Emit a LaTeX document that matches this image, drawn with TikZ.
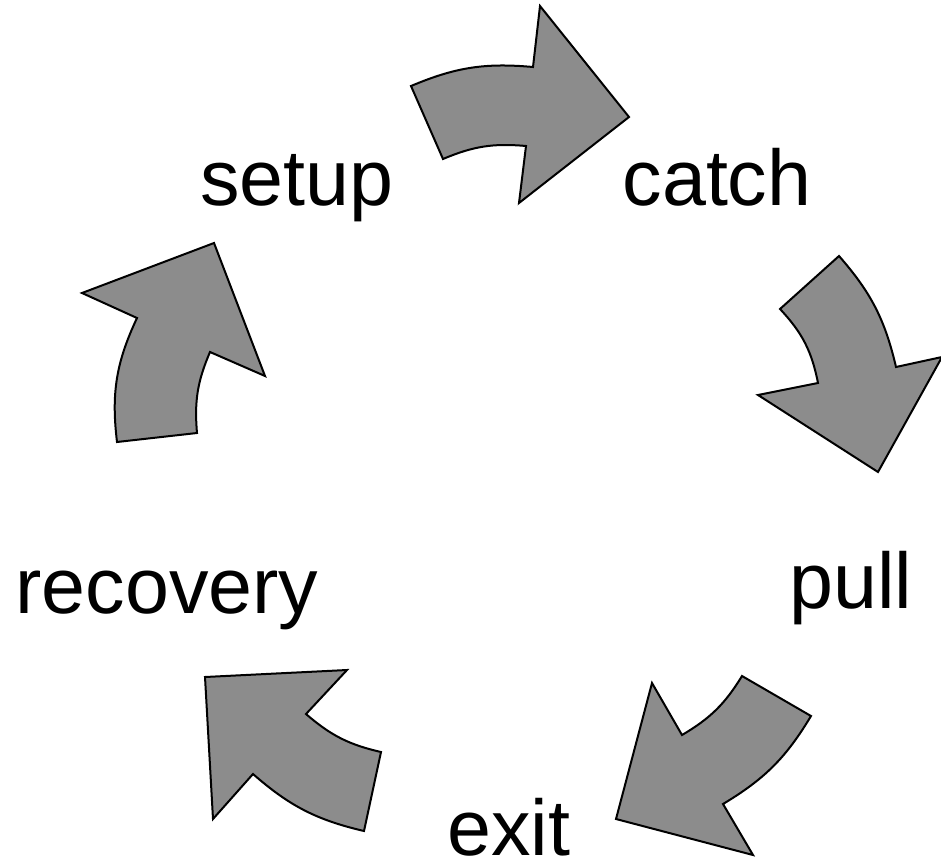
\documentclass[tikz,border=0pt]{standalone}
\usepackage{fontspec}
\setmainfont{Liberation Sans}
\definecolor{arrowgray}{RGB}{140,140,140}
\begin{document}
\begin{tikzpicture}[x=1pt,y=-1pt,
  blockarrow/.style={draw=black,fill=arrowgray,line width=2pt,line join=miter},
  lbl/.style={anchor=base,inner sep=0pt,font=\fontsize{79}{90}\selectfont}]
\useasboundingbox (0,0) rectangle (941,862);
% labels
\node[lbl] (setup) at (297,205) {setup};
\node[lbl] (catch) at (717,205) {catch};
\node[lbl] (pull) at (851,608) {pull};
\node[lbl] (recovery) at (167,613) {recovery};
\node[lbl] (exit) at (509,855) {exit};
% arrow setup -> catch
\path[blockarrow] (526,146) to[bend right=14] (443,159) -- (411,86) to[bend left=14] (533,67)
  -- (540,6) -- (629,117) -- (519,203) -- cycle;
% arrow catch -> pull
\path[blockarrow] (818,383) to[bend right=16] (780,309) -- (839,256) to[bend left=14] (896,367)
  -- (942,357) -- (878,472) -- (758,395) -- cycle;
% arrow pull -> exit
\path[blockarrow] (682,735) to[bend right=14] (742,676) -- (811,716) to[bend left=14] (723,804)
  -- (753,855) -- (616,819) -- (652,683) -- cycle;
% arrow exit -> recovery
\path[blockarrow] (306,714) to[bend right=14] (381,752) -- (364,831) to[bend left=14] (253,774)
  -- (213,819) -- (205,677) -- (347,670) -- cycle;
% arrow recovery -> setup
\path[blockarrow] (210,352) to[bend right=14] (197,433) -- (117,442) to[bend left=16] (137,318)
  -- (82,293) -- (214,243) -- (265,376) -- cycle;
\end{tikzpicture}
\end{document}
